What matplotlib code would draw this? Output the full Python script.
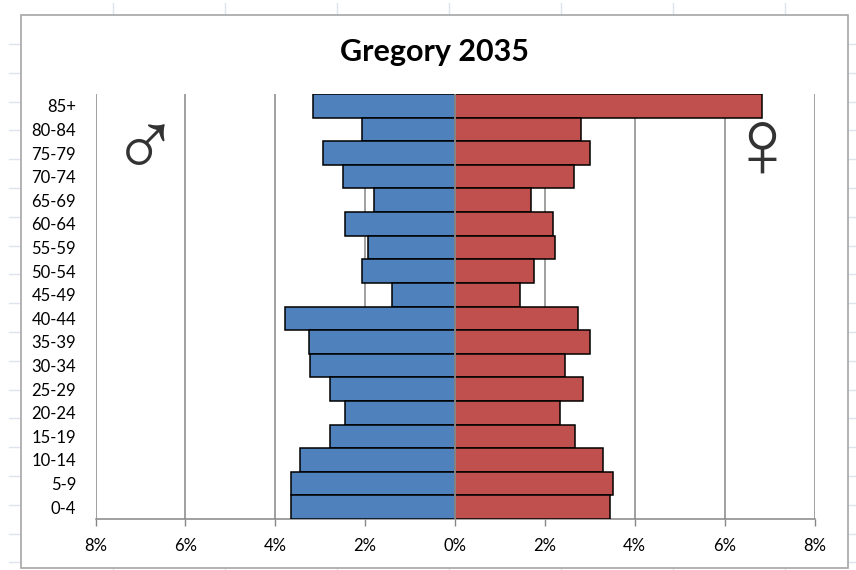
import matplotlib
matplotlib.use("Agg")
import matplotlib.pyplot as plt
from matplotlib.patches import Rectangle
from matplotlib.lines import Line2D

ages = ["85+", "80-84", "75-79", "70-74", "65-69", "60-64", "55-59", "50-54", "45-49",
        "40-44", "35-39", "30-34", "25-29", "20-24", "15-19", "10-14", "5-9", "0-4"]
male = [3.15, 2.06, 2.93, 2.50, 1.81, 2.44, 1.93, 2.06, 1.41,
        3.79, 3.26, 3.22, 2.79, 2.44, 2.79, 3.44, 3.66, 3.64]
female = [6.83, 2.80, 3.00, 2.64, 1.70, 2.17, 2.22, 1.75, 1.44,
          2.73, 3.00, 2.44, 2.84, 2.33, 2.66, 3.29, 3.51, 3.46]
ticks = [-8, -6, -4, -2, 0, 2, 4, 6, 8]

W, H = 856, 570
plt.rcParams['font.family'] = ['Lato', 'DejaVu Sans']
fig = plt.figure(figsize=(W / 100, H / 100), dpi=100)

# faint worksheet cells behind the chart
sheet = '#dfe3ee'
for x in range(113, W, 112):
    fig.add_artist(Line2D([x / W, x / W], [1 - 3 / H, 1 - 15 / H], color=sheet, lw=1, zorder=-2))
    fig.add_artist(Line2D([x / W, x / W], [0, 1 - 568 / H], color=sheet, lw=1, zorder=-2))
for i in range(19):
    y = 1 - (44 + 28.8 * i) / H
    fig.add_artist(Line2D([9 / W, 21 / W], [y, y], color=sheet, lw=1, zorder=-2))
    fig.add_artist(Line2D([848 / W, 1], [y, y], color=sheet, lw=1, zorder=-2))

# chart frame
fig.add_artist(Rectangle((21 / W, 1 - 568 / H), 827 / W, 553 / H, transform=fig.transFigure,
                         facecolor='white', edgecolor='#a6a6a6', lw=1.2, zorder=-1))

ax = fig.add_axes([95.5 / W, 1 - 519 / H, 719 / W, 425 / H])
ax.patch.set_visible(False)
pos = list(range(len(ages)))
ax.barh(pos, [-v for v in male], height=1, color='#4f81bd', edgecolor='black', lw=1.1, zorder=3)
ax.barh(pos, female, height=1, color='#c0504d', edgecolor='black', lw=1.1, zorder=3)
ax.axvline(0, color='#a6a6a6', lw=1.1, zorder=4)

ax.set_xlim(-8, 8)
ax.set_ylim(len(ages) - 0.5, -0.5)
ax.set_xticks(ticks)
ax.set_xticklabels([f"{abs(t)}%" for t in ticks], fontsize=12, color='black')
ax.set_yticks(pos)
ax.set_yticklabels(ages, fontsize=12, color='black')
ax.tick_params(axis='y', length=0, pad=14)
ax.tick_params(axis='x', length=5, width=1, color='#868686', pad=9)
ax.grid(axis='x', color='#868686', lw=1.1, zorder=0)
ax.set_axisbelow(True)
for side in ['top', 'right', 'left']:
    ax.spines[side].set_visible(False)
ax.spines['bottom'].set_color('#868686')
ax.spines['bottom'].set_linewidth(1.1)

fig.text(434 / W, 1 - 52 / H, "Gregory 2035", fontsize=22, fontweight='bold',
         ha='center', va='center')
fig.text(145 / W, 1 - 152 / H, "\u2642", fontsize=66, family='Liberation Sans', color='#333333',
         ha='center', va='center')
fig.text(762 / W, 1 - 153 / H, "\u2640", fontsize=70, family='Liberation Sans', color='#333333',
         ha='center', va='center')

fig.savefig("out.png", dpi=100)
plt.close()
